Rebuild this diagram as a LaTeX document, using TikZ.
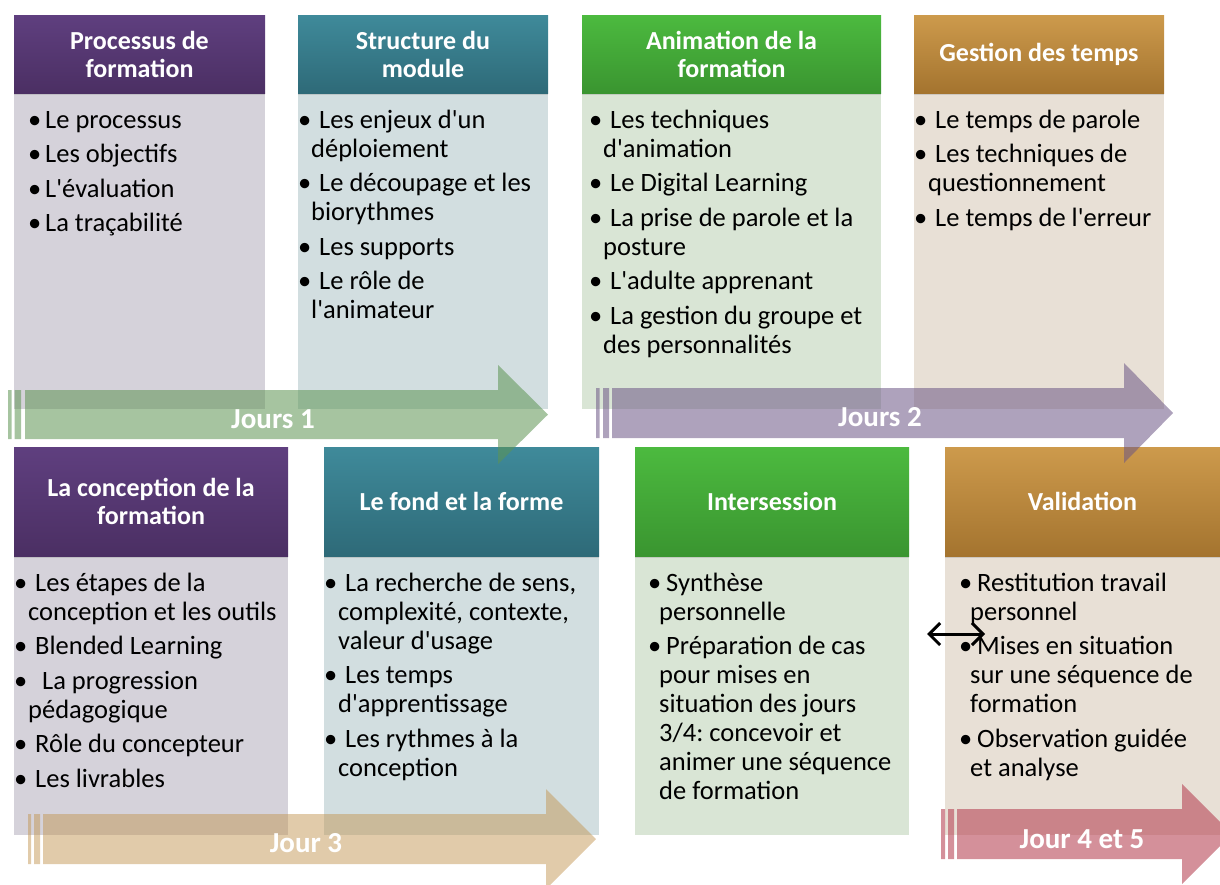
\documentclass[tikz,border=0pt]{standalone}
\usepackage{fontspec}
\setmainfont{Carlito}[Ligatures=TeXOff]
\usetikzlibrary{arrows.meta,shadows}
\frenchspacing
\definecolor{hpurT}{HTML}{5F3F7F}\definecolor{hpurB}{HTML}{4B2F63}
\definecolor{htealT}{HTML}{3F8A9A}\definecolor{htealB}{HTML}{2E6A78}
\definecolor{hgrnT}{HTML}{4CBA3F}\definecolor{hgrnB}{HTML}{3A9530}
\definecolor{hgoldT}{HTML}{CD9A4C}\definecolor{hgoldB}{HTML}{A4742F}
\definecolor{bpur}{HTML}{D5D2DA}\definecolor{bteal}{HTML}{D2DEE0}
\definecolor{bgrn}{HTML}{D9E5D5}\definecolor{bgold}{HTML}{E8E0D6}
\definecolor{agrn}{RGB}{93,148,82}\definecolor{apur}{RGB}{108,86,133}
\definecolor{atan}{RGB}{195,151,85}\definecolor{apink}{RGB}{183,70,87}
\newcommand\bi[2][21]{\makebox[#1pt][l]{•}#2}
\newcommand\co[2][14]{\hspace*{#1pt}#2}
\begin{document}
\begin{tikzpicture}[x=1pt,y=-1pt,
  hdr/.style={inner sep=0pt,align=center,text=white,
    font=\fontsize{26}{28}\selectfont\bfseries,
    drop shadow={opacity=0.25,shadow xshift=0pt,shadow yshift=-2pt}},
  hpur/.style={hdr,top color=hpurT,bottom color=hpurB},
  hteal/.style={hdr,top color=htealT,bottom color=htealB},
  hgrn/.style={hdr,top color=hgrnT,bottom color=hgrnB},
  hgold/.style={hdr,top color=hgoldT,bottom color=hgoldB},
  body/.style={inner sep=0pt,anchor=north west,draw=none},
  txt/.style={inner sep=0pt,anchor=north west,align=left,
    font=\fontsize{26.5}{29}\selectfont\frenchspacing},
  bigarrow/.style={draw=none},
  daylbl/.style={inner sep=0pt,text=white,font=\fontsize{29}{30}\selectfont\bfseries}]
\path[use as bounding box] (0,0) rectangle (1220,884);
\clip (0,0) rectangle (1220,884);

% ---------- top row bodies ----------
\node[body,fill=bpur,minimum width=251pt,minimum height=316pt] (b1) at (14,93) {};
\node[body,fill=bteal,minimum width=250pt,minimum height=316pt] (b2) at (298,93) {};
\node[body,fill=bgrn,minimum width=299pt,minimum height=316pt] (b3) at (582,93) {};
\node[body,fill=bgold,minimum width=250pt,minimum height=316pt] (b4) at (914,93) {};
% ---------- bottom row bodies ----------
\node[body,fill=bpur,minimum width=274pt,minimum height=279pt] (b5) at (14,556) {};
\node[body,fill=bteal,minimum width=275pt,minimum height=279pt] (b6) at (324,556) {};
\node[body,fill=bgrn,minimum width=274pt,minimum height=279pt] (b7) at (635,556) {};
\node[body,fill=bgold,minimum width=275pt,minimum height=279pt] (b8) at (945,556) {};

% ---------- body texts ----------
\node[txt] (t1) at (28,107.7) {\strut\bi[17]{Le processus}\\[5.5pt]%
\bi[17]{Les objectifs}\\[5.5pt]%
\bi[17]{L'évaluation}\\[5.5pt]%
\bi[17]{La traçabilité}};
\node[txt] (t2) at (298,107.7) {\strut\bi{Les enjeux d'un}\\\co[13]{déploiement}\\[5.5pt]%
\bi{Le découpage et les}\\\co[13]{biorythmes}\\[5.5pt]%
\bi{Les supports}\\[5.5pt]%
\bi{Le rôle de}\\\co[13]{l'animateur}};
\node[txt] (t3) at (589,107.7) {\strut\bi{Les techniques}\\\co{d'animation}\\[5.5pt]%
\bi{Le Digital Learning}\\[5.5pt]%
\bi{La prise de parole et la}\\\co{posture}\\[5.5pt]%
\bi{L'adulte apprenant}\\[5.5pt]%
\bi{La gestion du groupe et}\\\co{des personnalités}};
\node[txt] (t4) at (914,107.7) {\strut\bi{Le temps de parole}\\[5.5pt]%
\bi{Les techniques de}\\\co{questionnement}\\[5.5pt]%
\bi{Le temps de l'erreur}};
\node[txt] (t5) at (14,570.7) {\strut\bi{Les étapes de la}\\\co{conception et les outils}\\[5.5pt]%
\bi{Blended Learning}\\[5.5pt]%
\bi{\hspace{7pt}La progression}\\\co{pédagogique}\\[5.5pt]%
\bi{Rôle du concepteur}\\[5.5pt]%
\bi{Les livrables}};
\node[txt] (t6) at (324,570.7) {\strut\bi{La recherche de sens,}\\\co{complexité, contexte,}\\\co{valeur d'usage}\\[5.5pt]%
\bi{Les temps}\\\co{d'apprentissage}\\[5.5pt]%
\bi{Les rythmes à la}\\\co{conception}};
\node[txt] (t7) at (648,570.7) {\strut\bi[18]{Synthèse}\\\co[11]{personnelle}\\[5.5pt]%
\bi[18]{Préparation de cas}\\\co[11]{pour mises en}\\\co[11]{situation des jours}\\%
\co[11]{3/4: concevoir et}\\\co[11]{animer une séquence}\\\co[11]{de formation}};
\node[txt] (t8) at (959,570.7) {\strut\bi[18]{Restitution travail}\\\co[11]{personnel}\\[5.5pt]%
\bi[18]{Mises en situation}\\\co[11]{sur une séquence de}\\\co[11]{formation}\\[5.5pt]%
\bi[18]{Observation guidée}\\\co[11]{et analyse}};

% ---------- headers ----------
\node[hpur,minimum width=251pt,minimum height=78pt] (h1) at (139.5,54) {Processus de\\formation};
\node[hteal,minimum width=250pt,minimum height=78pt] (h2) at (423,54) {Structure du\\module};
\node[hgrn,minimum width=299pt,minimum height=78pt] (h3) at (731.5,54) {Animation de la\\formation};
\node[hgold,minimum width=250pt,minimum height=78pt] (h4) at (1039,54) {Gestion des temps};
\node[hpur,minimum width=274pt,minimum height=109pt] (h5) at (151,501.5) {La conception de la\\formation};
\node[hteal,minimum width=275pt,minimum height=109pt] (h6) at (461.5,501.5) {Le fond et la forme};
\node[hgrn,minimum width=274pt,minimum height=109pt] (h7) at (772,501.5) {Intersession};
\node[hgold,minimum width=275pt,minimum height=109pt] (h8) at (1082.5,501.5) {Validation};

% ---------- day arrows ----------
\fill[bigarrow,agrn,fill opacity=0.55] (8,390) rectangle (11.5,439) (14.5,390) rectangle (21,439)
  (25,390) -- (498,390) -- (498,365) -- (548,414.5) -- (498,464) -- (498,439) -- (25,439) -- cycle;
\fill[bigarrow,apur,fill opacity=0.55] (596,388) rectangle (599.5,438) (603,388) rectangle (609,438)
  (612,388) -- (1124,388) -- (1124,363) -- (1173,413) -- (1124,463) -- (1124,438) -- (612,438) -- cycle;
\fill[bigarrow,atan,fill opacity=0.5] (28,814) rectangle (31,864) (34,814) rectangle (40,864)
  (43,814) -- (546,814) -- (546,789) -- (596,839) -- (546,889) -- (546,864) -- (43,864) -- cycle;
\fill[bigarrow,apink,fill opacity=0.6] (941,809) rectangle (945,859) (948,809) rectangle (954,859)
  (957,809) -- (1182,809) -- (1182,784) -- (1232,834) -- (1182,884) -- (1182,859) -- (957,859) -- cycle;

\node[daylbl] (d1) at (273,419) {Jours 1};
\node[daylbl] (d2) at (880,417) {Jours 2};
\node[daylbl] (d3) at (306,843) {Jour 3};
\node[daylbl] (d4) at (1082,839) {Jour 4 et 5};

% ---------- double arrow ----------
\coordinate (dl) at (927,634);
\coordinate (dr) at (985,634);
\draw[line width=3pt,{Straight Barb[length=11pt,width=22pt,line width=3pt]}-{Straight Barb[length=11pt,width=22pt,line width=3pt]}] (dl) -- (dr);
\end{tikzpicture}
\end{document}
